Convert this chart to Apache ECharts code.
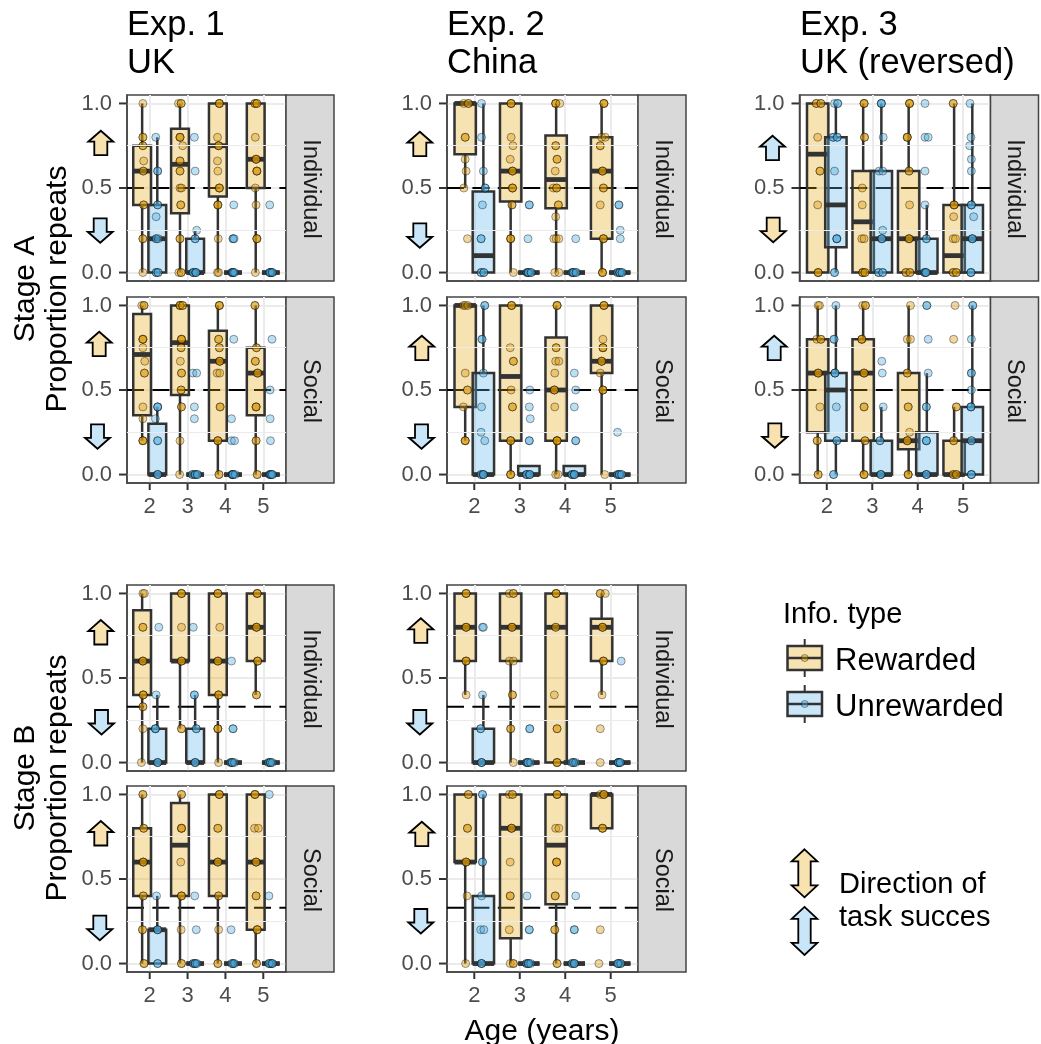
<!DOCTYPE html>
<html>
<head>
<meta charset="utf-8">
<style>html,body{margin:0;padding:0;background:#fff}#chart{width:1041px;height:1044px}</style>
<script src="https://cdn.jsdelivr.net/npm/echarts@6/dist/echarts.min.js"></script>
</head>
<body>
<div id="chart"></div>
<script>
var ages = [2, 3, 4, 5];
var yTicks = [0, 0.5, 1];
var yMinor = [0.25, 0.75];
var chanceA = 0.5;
var chanceB = 0.33;
var zeroBox = [0, 0, 0, 0, 0];

// boxes: low, q1, median, q3, high for ages 2-5
// points: x, y, how many overlap there
// stage A, exp 1
var a1iRewBox = [[0,.4,.6,.75,1],[0,.35,.64,.85,1],[0,.45,.75,1,1],[0,.5,.67,1,1]];
var a1iUnrBox = [[0,0,.2,.4,.8],[0,0,0,.2,.25],zeroBox,zeroBox];
var a1iRewPts = [[1.82,1,1],[1.82,.8,2],[1.82,.75,2],[1.84,.66,1],[1.83,.6,2],[1.84,.4,2],[1.82,.2,2],[1.82,0,1],
  [2.76,1,1],[2.83,1,2],[2.8,.8,3],[2.87,.75,1],[2.8,.66,2],[2.8,.6,2],[2.8,.5,1],[2.84,.5,1],[2.82,.4,2],[2.8,.2,2],[2.77,0,1],[2.83,0,2],
  [3.84,1,3],[3.79,.8,1],[3.82,.75,3],[3.79,.66,1],[3.8,.6,1],[3.84,.5,3],[3.8,.4,3],[3.81,.2,1],[3.79,0,1],[3.82,0,1],
  [4.78,1,2],[4.83,1,2],[4.79,.8,1],[4.81,.67,3],[4.83,.6,3],[4.79,.5,1],[4.81,.4,1],[4.83,.2,3],[4.79,0,1]];
var a1iUnrPts = [[2.16,.8,1],[2.21,.6,2],[2.21,.4,2],[2.17,.33,1],[2.17,.2,2],[2.23,.2,1],[2.17,0,2],[2.22,0,2],
  [3.18,.8,1],[3.2,.6,1],[3.24,.25,1],[3.2,.2,2],[3.15,0,3],[3.22,0,3],
  [4.22,.4,1],[4.2,.2,2],[4.23,.2,1],[4.17,0,2],[4.2,0,4],[4.24,0,1],
  [5.17,.4,1],[5.2,0,4],[5.17,0,2],[5.24,0,2]];

var a1sRewBox = [[.2,.35,.71,.95,1],[0,.47,.78,1,1],[0,.2,.67,.85,1],[0,.35,.6,.75,1]];
var a1sUnrBox = [[0,0,0,.3,.4],zeroBox,zeroBox,zeroBox];
var a1sRewPts = [[1.79,1,1],[1.85,1,2],[1.82,.8,3],[1.82,.75,1],[1.87,.67,1],[1.86,.6,2],[1.82,.4,1],[1.82,.33,1],[1.82,.2,3],
  [2.8,1,3],[2.87,1,2],[2.84,.8,3],[2.83,.75,2],[2.81,.67,1],[2.84,.6,2],[2.83,.5,2],[2.84,.4,2],[2.8,.2,1],[2.79,0,1],
  [3.84,1,3],[3.82,.8,2],[3.84,.75,2],[3.85,.67,3],[3.78,.6,1],[3.85,.6,1],[3.86,.4,2],[3.8,.2,3],[3.83,0,2],
  [4.78,1,2],[4.82,.75,2],[4.79,.67,2],[4.85,.6,3],[4.81,.4,3],[4.81,.2,2],[4.84,0,2]];
var a1sUnrPts = [[2.21,.4,3],[2.15,.33,1],[2.21,.2,2],[2.21,0,3],
  [3.14,.6,1],[3.24,.6,1],[3.18,.4,1],[3.18,.33,1],[3.13,0,2],[3.2,0,3],[3.26,0,2],
  [4.22,.8,1],[4.16,.33,1],[4.16,.2,1],[4.24,.2,1],[4.18,0,3],[4.2,0,3],[4.26,0,1],
  [5.23,.8,1],[5.18,.5,1],[5.18,.33,1],[5.19,.2,1],[5.17,0,2],[5.2,0,3],[5.24,0,2]];

// stage A, exp 2
var a2iRewBox = [[.5,.7,1,1,1],[0,.42,.6,1,1],[0,.38,.55,.81,1],[0,.2,.6,.8,1]];
var a2iUnrBox = [[0,0,.1,.48,1],zeroBox,zeroBox,zeroBox];
var a2iRewPts = [[1.77,1,1],[1.87,1,2],[1.8,.8,2],[1.8,.67,1],[1.82,.6,1],[1.77,.5,1],[1.85,.2,1],
  [2.81,1,3],[2.81,.8,1],[2.85,.75,1],[2.79,.67,1],[2.84,.6,3],[2.84,.5,3],[2.83,.4,2],[2.8,.2,3],[2.86,0,1],
  [3.79,1,3],[3.88,1,1],[3.79,.75,2],[3.82,.67,2],[3.78,.6,1],[3.74,.5,1],[3.81,.5,2],[3.85,.4,2],[3.79,.33,1],[3.75,.2,1],[3.8,.2,1],[3.86,.2,1],[3.77,0,1],[3.86,0,1],
  [4.85,1,3],[4.8,.8,1],[4.88,.8,1],[4.77,.75,2],[4.82,.6,3],[4.84,.5,2],[4.77,.4,1],[4.84,.2,3],[4.82,0,3]];
var a2iUnrPts = [[2.16,1,1],[2.16,.8,1],[2.2,.6,1],[2.24,.5,2],[2.18,.4,1],[2.15,.2,2],[2.15,0,2],[2.21,0,2],
  [3.21,.4,2],[3.18,.2,1],[3.16,0,2],[3.19,0,3],[3.25,0,2],
  [4.23,.2,1],[4.15,0,2],[4.18,0,3],[4.24,0,2],
  [5.18,.4,2],[5.21,.25,1],[5.21,.2,1],[5.15,0,2],[5.2,0,3],[5.25,0,2]];

var a2sRewBox = [[.2,.4,1,1,1],[0,.2,.58,1,1],[0,.2,.5,.81,1],[0,.6,.67,1,1]];
var a2sUnrBox = [[0,0,0,.6,1],[0,0,0,.05,.05],[0,0,0,.05,.05],zeroBox];
var a2sRewPts = [[1.76,1,1],[1.8,1,1],[1.86,1,1],[1.8,.6,1],[1.85,.5,2],[1.76,.4,1],[1.8,.2,3],
  [2.82,1,3],[2.79,.75,1],[2.86,.67,2],[2.81,.5,1],[2.84,.4,2],[2.8,.2,3],[2.8,0,3],
  [3.82,1,3],[3.8,.75,2],[3.79,.67,1],[3.86,.67,1],[3.77,.6,1],[3.76,.5,3],[3.77,.4,1],[3.82,.2,4],[3.79,0,1],[3.84,0,1],
  [4.85,1,3],[4.83,.8,1],[4.83,.75,3],[4.8,.67,3],[4.77,.6,1],[4.83,.5,3],[4.87,0,1]];
var a2sUnrPts = [[2.23,1,2],[2.17,.8,2],[2.2,.6,1],[2.16,.4,1],[2.15,.25,1],[2.23,.2,1],[2.15,0,2],[2.2,0,3],
  [3.22,.5,1],[3.21,.4,1],[3.23,.33,1],[3.21,.2,2],[3.15,0,3],[3.22,0,3],
  [4.2,.6,1],[4.23,.5,1],[4.2,.4,1],[4.23,.2,2],[4.15,0,3],[4.2,0,3],
  [5.15,.25,1],[5.15,0,2],[5.19,0,3],[5.24,0,2]];

// stage A, exp 3
var a3iRewBox = [[0,0,.7,1,1],[0,0,.3,.6,1],[0,0,.2,.6,1],[0,0,.1,.4,1]];
var a3iUnrBox = [[0,.15,.4,.8,1],[0,0,.2,.6,1],[0,0,0,.2,.4],[0,0,.2,.4,1]];
var a3iRewPts = [[1.77,1,2],[1.87,1,2],[1.8,.8,1],[1.85,.6,2],[1.8,.4,1],[1.81,0,3],
  [2.82,1,3],[2.83,.8,2],[2.78,.5,1],[2.78,.4,1],[2.77,.2,1],[2.82,.2,1],[2.79,0,3],[2.84,0,2],
  [3.82,1,3],[3.77,.8,3],[3.81,.6,2],[3.82,.4,1],[3.81,.2,3],[3.74,0,2],[3.83,0,2],
  [4.78,1,2],[4.8,.4,3],[4.79,.33,1],[4.78,.2,1],[4.83,.2,1],[4.78,0,2],[4.85,0,2]];
var a3iUnrPts = [[2.17,1,1],[2.24,1,2],[2.14,.8,2],[2.23,.8,2],[2.17,.6,1],[2.22,.2,3],[2.17,0,2],
  [3.2,1,3],[3.24,.8,1],[3.15,.6,1],[3.23,.6,1],[3.23,.25,1],[3.21,.2,3],[3.14,0,2],[3.23,0,2],
  [4.16,1,1],[4.16,.8,1],[4.23,.8,1],[4.16,.6,1],[4.16,.4,1],[4.19,.2,2],[4.15,0,2],[4.18,0,3],
  [5.15,1,1],[5.17,.8,1],[5.14,.75,1],[5.18,.67,1],[5.18,.6,1],[5.18,.4,3],[5.23,.33,1],[5.2,.2,3],[5.17,0,3]];

var a3sRewBox = [[0,.25,.6,.8,1],[0,.2,.6,.8,1],[0,.15,.2,.6,1],[0,0,0,.2,.4]];
var a3sUnrBox = [[0,.2,.5,.6,1],[0,0,0,.2,.4],[0,0,0,.25,.6],[0,0,.2,.4,1]];
var a3sRewPts = [[1.81,1,1],[1.84,1,1],[1.78,.8,1],[1.87,.8,2],[1.81,.6,3],[1.85,.4,1],[1.79,.2,2],[1.81,0,2],
  [2.79,1,1],[2.85,1,2],[2.77,.8,3],[2.82,.6,3],[2.82,.4,2],[2.84,.2,2],[2.82,0,3],
  [3.84,1,1],[3.77,.8,1],[3.84,.8,1],[3.77,.6,2],[3.79,.4,2],[3.82,.25,1],[3.77,.2,3],[3.79,0,3],
  [4.82,1,1],[4.79,.8,1],[4.85,.4,2],[4.79,.2,2],[4.78,0,2],[4.85,0,2]];
var a3sUnrPts = [[2.2,1,1],[2.16,.8,2],[2.18,.6,3],[2.21,.4,1],[2.22,.2,2],[2.15,0,2],
  [3.21,.67,1],[3.22,.6,1],[3.24,.4,1],[3.17,.2,2],[3.19,0,3],
  [4.2,1,2],[4.23,.8,1],[4.23,.6,1],[4.19,.4,2],[4.19,.2,3],[4.19,0,3],
  [5.21,1,2],[5.18,.8,1],[5.18,.6,2],[5.18,.5,1],[5.17,.4,3],[5.18,.2,2],[5.18,0,3]];

// stage B, exp 1
var b1iRewBox = [[0,.4,.6,.9,1],[.2,.6,.6,1,1],[0,.4,.6,1,1],[.4,.6,.8,1,1]];
var b1iUnrBox = [[0,0,0,.2,.4],[0,0,0,.2,.4],zeroBox,zeroBox];
var b1iRewPts = [[1.82,1,1],[1.86,1,1],[1.82,.8,2],[1.82,.6,3],[1.83,.4,3],[1.82,.33,2],[1.82,.2,1],[1.78,0,1],
  [2.84,1,3],[2.84,.8,1],[2.84,.6,3],[2.84,.2,2],
  [3.8,1,3],[3.85,.8,1],[3.8,.6,3],[3.82,.4,3],[3.8,.2,3],[3.82,0,1],
  [4.84,1,3],[4.82,.8,3],[4.85,.6,3],[4.82,.4,2]];
var b1iUnrPts = [[2.24,.8,1],[2.17,.4,1],[2.15,.2,3],[2.21,0,3],
  [3.15,.8,1],[3.18,.4,2],[3.23,.2,2],[3.2,0,3],
  [4.16,.6,1],[4.2,.2,2],[4.14,0,2],[4.18,0,3],[4.24,0,1],
  [5.14,0,2],[5.19,0,3],[5.24,0,1]];

var b1sRewBox = [[0,.4,.6,.8,1],[0,.4,.7,.95,1],[0,.4,.6,1,1],[0,.2,.6,1,1]];
var b1sUnrBox = [[0,0,.2,.2,.4],zeroBox,zeroBox,zeroBox];
var b1sRewPts = [[1.82,1,2],[1.84,.8,2],[1.83,.6,3],[1.83,.4,2],[1.81,.2,2],[1.85,0,2],
  [2.84,1,2],[2.84,.8,3],[2.82,.6,1],[2.84,.4,3],[2.83,.2,1],[2.84,0,2],
  [3.84,1,3],[3.8,.8,2],[3.8,.6,3],[3.82,.4,2],[3.82,.2,1],[3.8,0,2],
  [4.78,1,3],[4.77,.8,1],[4.87,.8,1],[4.81,.6,3],[4.81,.4,2],[4.84,.2,3],[4.82,0,2]];
var b1sUnrPts = [[2.18,.4,1],[2.21,.2,3],[2.21,0,2],
  [3.19,.4,1],[3.23,.2,1],[3.15,0,2],[3.2,0,3],[3.25,0,1],
  [4.15,.2,1],[4.2,0,3],[4.16,0,1],[4.24,0,1],
  [5.16,1,1],[5.15,.4,1],[5.2,0,3],[5.15,0,2],[5.24,0,2]];

// stage B, exp 2
var b2iRewBox = [[.4,.6,.8,1,1],[0,.6,.8,1,1],[0,0,.8,1,1],[.4,.6,.8,.85,1]];
var b2iUnrBox = [[0,0,0,.2,.4],zeroBox,zeroBox,zeroBox];
var b2iRewPts = [[1.82,1,3],[1.82,.8,3],[1.82,.6,3],[1.82,.4,1],
  [2.77,1,1],[2.86,1,2],[2.83,.8,3],[2.77,.6,1],[2.86,.6,1],[2.84,.4,2],[2.8,.2,2],[2.86,0,1],
  [3.8,1,3],[3.79,.8,2],[3.76,.4,1],[3.82,.2,2],[3.82,0,3],
  [4.77,1,2],[4.88,1,1],[4.82,.8,3],[4.84,.6,3],[4.81,.4,1],[4.77,.2,1],[4.77,0,1]];
var b2iUnrPts = [[2.18,.8,1],[2.2,.8,1],[2.18,.4,1],[2.14,.2,2],[2.16,0,3],
  [3.22,.2,2],[3.15,0,2],[3.18,0,3],[3.24,0,1],
  [4.18,0,3],[4.14,0,1],[4.23,0,1],
  [5.23,.6,1],[5.17,0,2],[5.17,0,3],[5.21,0,2]];

var b2sRewBox = [[0,.6,.6,1,1],[0,.15,.8,1,1],[0,.35,.7,1,1],[.8,.8,1,1,1]];
var b2sUnrBox = [[0,0,0,.4,1],zeroBox,zeroBox,zeroBox];
var b2sRewPts = [[1.87,1,2],[1.85,.8,2],[1.82,.6,3],[1.84,.4,1],[1.81,0,1],
  [2.77,1,1],[2.84,1,2],[2.82,.8,3],[2.79,.6,1],[2.79,.4,2],[2.77,.2,1],[2.79,0,1],[2.86,0,2],
  [3.82,1,3],[3.79,.8,1],[3.86,.8,1],[3.81,.6,3],[3.78,.4,2],[3.77,.2,2],[3.82,0,2],
  [4.77,1,1],[4.85,1,3],[4.82,.8,3],[4.77,.2,1],[4.74,0,1]];
var b2sUnrPts = [[2.18,1,2],[2.18,.6,2],[2.16,.4,1],[2.14,.2,1],[2.21,.2,1],[2.16,0,3],
  [3.16,.4,1],[3.21,.2,2],[3.15,0,2],[3.19,0,3],[3.24,0,1],
  [4.23,.4,1],[4.2,.2,2],[4.15,0,2],[4.2,0,3],
  [5.17,0,3],[5.22,0,2],[5.15,0,1]];

var titleLines = [['Exp. 1', 'UK'], ['Exp. 2', 'China'], ['Exp. 3', 'UK (reversed)']];
var legendNames = ['Rewarded', 'Unrewarded'];

var REW_SOLID = '#DB9600', UNR_SOLID = '#4CAAE0';
var REW_FILL = 'rgba(230,159,0,0.3)', UNR_FILL = 'rgba(86,180,233,0.32)';
var REW_ARROW = '#F7E2B0', UNR_ARROW = '#C9E6F9';
var DARK = '#333333';
var FONT = '"Liberation Sans", Arial, sans-serif';
var BOX_W = 0.47, DODGE = 0.2;
var X_MIN = 1.4, X_MAX = 5.6, Y_MIN = -0.05, Y_MAX = 1.05;

var colX = [127, 447, 799.5];
var colW = [159, 191, 191];
var rowY = [95, 297, 585, 786];
var PANEL_H = 186;
var STRIP_W = 48;

var panels = [
  {c: 0, r: 0, strip: 'Individual', chance: chanceA, rb: a1iRewBox, ub: a1iUnrBox, rp: a1iRewPts, up: a1iUnrPts},
  {c: 0, r: 1, strip: 'Social', chance: chanceA, rb: a1sRewBox, ub: a1sUnrBox, rp: a1sRewPts, up: a1sUnrPts},
  {c: 1, r: 0, strip: 'Individual', chance: chanceA, rb: a2iRewBox, ub: a2iUnrBox, rp: a2iRewPts, up: a2iUnrPts},
  {c: 1, r: 1, strip: 'Social', chance: chanceA, rb: a2sRewBox, ub: a2sUnrBox, rp: a2sRewPts, up: a2sUnrPts},
  {c: 2, r: 0, strip: 'Individual', chance: chanceA, rb: a3iRewBox, ub: a3iUnrBox, rp: a3iRewPts, up: a3iUnrPts},
  {c: 2, r: 1, strip: 'Social', chance: chanceA, rb: a3sRewBox, ub: a3sUnrBox, rp: a3sRewPts, up: a3sUnrPts},
  {c: 0, r: 2, strip: 'Individual', chance: chanceB, rb: b1iRewBox, ub: b1iUnrBox, rp: b1iRewPts, up: b1iUnrPts},
  {c: 0, r: 3, strip: 'Social', chance: chanceB, rb: b1sRewBox, ub: b1sUnrBox, rp: b1sRewPts, up: b1sUnrPts},
  {c: 1, r: 2, strip: 'Individual', chance: chanceB, rb: b2iRewBox, ub: b2iUnrBox, rp: b2iRewPts, up: b2iUnrPts},
  {c: 1, r: 3, strip: 'Social', chance: chanceB, rb: b2sRewBox, ub: b2sUnrBox, rp: b2sRewPts, up: b2sUnrPts}
];

// arrows next to the panels: left, top, direction, colour
var arrows = [
  [88.3, 130.7, 'up', REW_ARROW], [87.7, 218.3, 'down', UNR_ARROW],
  [86.7, 331.7, 'up', REW_ARROW], [85, 424.3, 'down', UNR_ARROW],
  [407.3, 131.7, 'up', REW_ARROW], [407.3, 223.3, 'down', UNR_ARROW],
  [409.3, 335.7, 'up', REW_ARROW], [409, 424.3, 'down', UNR_ARROW],
  [760, 135.7, 'up', UNR_ARROW], [760.7, 217.7, 'down', REW_ARROW],
  [761.7, 335.7, 'up', UNR_ARROW], [762.3, 423.3, 'down', REW_ARROW],
  [88.3, 620, 'up', REW_ARROW], [89, 710, 'down', UNR_ARROW],
  [88.3, 821, 'up', REW_ARROW], [87.3, 915.7, 'down', UNR_ARROW],
  [408.3, 618.3, 'up', REW_ARROW], [407.3, 710, 'down', UNR_ARROW],
  [409.3, 821.7, 'up', REW_ARROW], [408.3, 909, 'down', UNR_ARROW]
];

function expand(pts) {
  var out = [];
  pts.forEach(function (p) {
    for (var i = 0; i < p[2]; i++) out.push([p[0], p[1]]);
  });
  return out;
}

function renderBox(fill) {
  return function (params, api) {
    var x = api.value(0);
    var halfW = api.size([BOX_W, 0])[0] / 2;
    var low = api.coord([x, api.value(1)]);
    var q1 = api.coord([x, api.value(2)]);
    var med = api.coord([x, api.value(3)]);
    var q3 = api.coord([x, api.value(4)]);
    var high = api.coord([x, api.value(5)]);
    var lineStyle = {stroke: DARK, lineWidth: 2.5, fill: null};
    return {
      type: 'group',
      children: [
        {type: 'line', shape: {x1: low[0], y1: low[1], x2: q1[0], y2: q1[1]}, style: lineStyle},
        {type: 'line', shape: {x1: q3[0], y1: q3[1], x2: high[0], y2: high[1]}, style: lineStyle},
        {type: 'rect', shape: {x: q3[0] - halfW, y: q3[1], width: halfW * 2, height: q1[1] - q3[1]},
          style: {fill: fill, stroke: DARK, lineWidth: 2.5}},
        {type: 'line', shape: {x1: med[0] - halfW, y1: med[1], x2: med[0] + halfW, y2: med[1]},
          style: {stroke: DARK, lineWidth: 4.8}}
      ]
    };
  };
}

function arrowPoints(x, y, dir) {
  var w = 25, h = 24.5, head = 11, sl = 6, sr = 19;
  if (dir === 'up') {
    return [[x + w / 2, y], [x + w, y + head], [x + sr, y + head], [x + sr, y + h], [x + sl, y + h], [x + sl, y + head], [x, y + head]];
  }
  return [[x + w / 2, y + h], [x + w, y + h - head], [x + sr, y + h - head], [x + sr, y], [x + sl, y], [x + sl, y + h - head], [x, y + h - head]];
}

function doubleArrow(x, y, fill) {
  var w = 25.6, h = 48, head = 12, sl = 6.6, sr = 19;
  return {
    type: 'polygon',
    shape: {points: [[x + w / 2, y], [x + w, y + head], [x + sr, y + head], [x + sr, y + h - head], [x + w, y + h - head],
      [x + w / 2, y + h], [x, y + h - head], [x + sl, y + h - head], [x + sl, y + head], [x, y + head]]},
    style: {fill: fill, stroke: '#000', lineWidth: 1.8}
  };
}

function label(text, x, y, size, opts) {
  opts = opts || {};
  return {
    type: 'text',
    x: x,
    y: y,
    rotation: opts.rotation || 0,
    style: {text: text, font: size + 'px ' + FONT, fill: opts.fill || '#000',
      align: opts.align || 'left', verticalAlign: 'middle'}
  };
}

var grids = [], xAxes = [], yAxes = [], series = [], graphics = [];

panels.forEach(function (p, i) {
  var left = colX[p.c], top = rowY[p.r], width = colW[p.c];
  var showX = p.r === 1 || p.r === 3;
  grids.push({left: left, top: top, width: width, height: PANEL_H, show: true,
    backgroundColor: '#fff', borderColor: '#444', borderWidth: 1.5});
  xAxes.push({
    type: 'value', gridIndex: i, min: X_MIN, max: X_MAX,
    axisLine: {show: true, onZero: false, lineStyle: {color: '#444', width: 1.5}},
    axisTick: {show: false, customValues: ages},
    axisLabel: {show: showX, margin: 13, color: '#4D4D4D', fontSize: 22, fontFamily: FONT, customValues: ages,
      formatter: function (v) { return String(v); }},
    splitLine: {show: true, lineStyle: {color: '#EBEBEB', width: 2}}
  });
  yAxes.push({
    type: 'value', gridIndex: i, min: Y_MIN, max: Y_MAX,
    axisLine: {show: true, onZero: false, lineStyle: {color: '#444', width: 1.5}},
    axisTick: {show: false, customValues: yTicks},
    axisLabel: {show: true, margin: 15, color: '#4D4D4D', fontSize: 22, fontFamily: FONT, customValues: yTicks,
      formatter: function (v) { return v.toFixed(1); }},
    splitLine: {show: true, lineStyle: {color: '#EBEBEB', width: 2}}
  });

  series.push({
    type: 'line', xAxisIndex: i, yAxisIndex: i, data: [], silent: true, z: 1,
    markLine: {silent: true, symbol: 'none', animation: false, label: {show: false},
      lineStyle: {color: '#EBEBEB', width: 1, type: 'solid'},
      data: yMinor.map(function (v) { return {yAxis: v}; })}
  });
  series.push({
    type: 'line', xAxisIndex: i, yAxisIndex: i, symbol: 'none', silent: true, z: 2,
    data: [[X_MIN, p.chance], [X_MAX, p.chance]],
    lineStyle: {color: '#000', width: 2, type: [17, 8.4]}
  });
  [[p.rb, -DODGE, REW_FILL], [p.ub, DODGE, UNR_FILL]].forEach(function (b) {
    series.push({
      type: 'custom', xAxisIndex: i, yAxisIndex: i, z: 3, silent: true,
      renderItem: renderBox(b[2]),
      encode: {x: 0, y: [1, 2, 3, 4, 5]},
      data: b[0].map(function (v, k) { return [ages[k] + b[1]].concat(v); })
    });
  });
  [[p.rp, REW_SOLID], [p.up, UNR_SOLID]].forEach(function (s) {
    series.push({
      type: 'scatter', xAxisIndex: i, yAxisIndex: i, z: 4, silent: true,
      symbolSize: 8,
      itemStyle: {color: s[1], borderColor: '#000', borderWidth: 1, opacity: 0.38},
      data: expand(s[0])
    });
  });

  // facet strip
  graphics.push({
    type: 'rect',
    shape: {x: left + width, y: top, width: STRIP_W, height: PANEL_H},
    style: {fill: '#D9D9D9', stroke: '#444', lineWidth: 1.5}
  });
  graphics.push(label(p.strip, left + width + STRIP_W / 2, top + PANEL_H / 2 + 1, 23.5,
    {rotation: -Math.PI / 2, align: 'center', fill: '#1A1A1A'}));
});

arrows.forEach(function (a) {
  graphics.push({type: 'polygon', shape: {points: arrowPoints(a[0], a[1], a[2])},
    style: {fill: a[3], stroke: '#000', lineWidth: 1.8}});
});

// column titles
[127, 447, 800].forEach(function (x, i) {
  graphics.push(label(titleLines[i][0], x, 25, 34.5));
  graphics.push(label(titleLines[i][1], x, 63, 34.5));
});

// row titles
graphics.push(label('Stage A', 26, 289, 30, {rotation: Math.PI / 2, align: 'center'}));
graphics.push(label('Proportion repeats', 58, 289, 30, {rotation: Math.PI / 2, align: 'center'}));
graphics.push(label('Stage B', 26, 778, 30, {rotation: Math.PI / 2, align: 'center'}));
graphics.push(label('Proportion repeats', 58, 778, 30, {rotation: Math.PI / 2, align: 'center'}));
graphics.push(label('Age (years)', 542, 1032, 30, {align: 'center'}));

// legend
graphics.push(label('Info. type', 783, 614.5, 29));
[[646, REW_FILL, REW_SOLID], [692, UNR_FILL, UNR_SOLID]].forEach(function (k, i) {
  var top = k[0], cx = 804.7;
  graphics.push({type: 'line', shape: {x1: cx, y1: top - 7, x2: cx, y2: top + 31}, style: {stroke: DARK, lineWidth: 2}});
  graphics.push({type: 'rect', shape: {x: 787.5, y: top, width: 34.5, height: 24}, style: {fill: '#fff', stroke: 'none'}});
  graphics.push({type: 'rect', shape: {x: 787.5, y: top, width: 34.5, height: 24}, style: {fill: k[1], stroke: DARK, lineWidth: 2.5}});
  graphics.push({type: 'line', shape: {x1: 787.5, y1: top + 12, x2: 822, y2: top + 12}, style: {stroke: DARK, lineWidth: 2.5}});
  graphics.push({type: 'circle', shape: {cx: cx, cy: top + 12, r: 3.5}, style: {fill: k[2], stroke: '#000', lineWidth: 1, opacity: 0.38}});
  graphics.push(label(legendNames[i], 835, top + 15, 31));
});
graphics.push(doubleArrow(791.7, 849.3, REW_ARROW));
graphics.push(doubleArrow(791.7, 906.9, UNR_ARROW));
graphics.push(label('Direction of', 839, 885, 29));
graphics.push(label('task succes', 839, 918, 29));

var myChart = echarts.init(document.getElementById('chart'), null, {renderer: 'canvas'});
myChart.setOption({
  animation: false,
  backgroundColor: '#fff',
  grid: grids,
  xAxis: xAxes,
  yAxis: yAxes,
  series: series,
  graphic: {elements: graphics}
});

// tick marks: ask the axis scale where they go, then draw them outside the panels
panels.forEach(function (p, i) {
  yTicks.forEach(function (v) {
    var c = myChart.convertToPixel({gridIndex: i}, [X_MIN, v]);
    graphics.push({type: 'rect', shape: {x: c[0] - 8, y: c[1] - 1, width: 8, height: 2}, style: {fill: DARK}});
  });
  if (p.r === 1 || p.r === 3) {
    ages.forEach(function (v) {
      var c = myChart.convertToPixel({gridIndex: i}, [v, Y_MIN]);
      graphics.push({type: 'rect', shape: {x: c[0] - 1, y: c[1], width: 2, height: 7}, style: {fill: DARK}});
    });
  }
});
myChart.setOption({graphic: {elements: graphics}}, {replaceMerge: ['graphic']});
</script>
</body>
</html>
